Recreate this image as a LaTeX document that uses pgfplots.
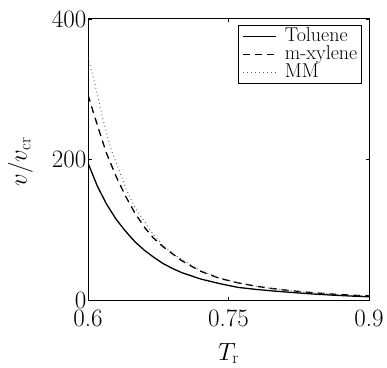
\documentclass[border=0pt]{standalone}
\usepackage{fontspec}
\usepackage{pgfplots}
\pgfplotsset{compat=1.18}
\newcommand{\lf}{\fontsize{20}{23}\selectfont}
\begin{document}
\begin{tikzpicture}
\begin{axis}[
  name=ax,
  scale only axis, width=281pt, height=281pt,
  xmin=0.6, xmax=0.9, ymin=0, ymax=400,
  xtick={0.6,0.75,0.9}, xticklabels={0.6,0.75,0.9},
  ytick={0,200,400}, yticklabels={0,200,400},
  tick align=inside, tick pos=both, major tick length=3.5pt,
  axis line style={line width=1pt},
  every tick/.style={black, line width=0.8pt},
  tick label style={font=\fontsize{25}{30}\selectfont},
  yticklabel style={inner xsep=1.5pt},
  xticklabel style={inner ysep=9.5pt},
  xlabel={$T_{\mathrm{r}}$}, ylabel={$v/v_{\mathrm{cr}}$},
  every axis x label/.style={at={(axis description cs:0.5,0)}, anchor=north, yshift=-43pt, inner sep=0pt, font=\fontsize{24}{28}\selectfont},
  every axis y label/.style={at={(axis description cs:0,0.5)}, anchor=center, rotate=90, yshift=67.5pt, xshift=-2.5pt, font=\fontsize{24}{28}\selectfont},
  legend cell align=left,
  legend style={at={(rel axis cs:1,1)}, anchor=north east, xshift=-7.3pt, yshift=-6.3pt,
    draw=black, line width=0.8pt, inner sep=2pt, row sep=0pt, font=\lf,
    nodes={inner xsep=2pt, inner ysep=0pt, text height=14pt, text depth=4pt}},
  legend image code/.code={\path (0pt,0pt) (41pt,0pt); \draw[line width=1.3pt,#1] (2pt,0pt) -- (35pt,0pt);},
]
\addplot[black, line width=1.3pt] coordinates {
(0.600,195) (0.610,162) (0.620,136) (0.630,115) (0.640,98) (0.650,83)
(0.660,71) (0.670,61) (0.680,52) (0.690,45) (0.700,39) (0.720,30)
(0.740,23.5) (0.760,18) (0.780,15) (0.800,12.6) (0.820,10.5) (0.840,8.6)
(0.860,7) (0.880,5.7) (0.900,4.5)};
\addlegendentry{\lf Toluene}
\addplot[black, line width=1.3pt, dash pattern=on 7pt off 5pt] coordinates {
(0.600,292) (0.605,270) (0.610,249) (0.615,228) (0.620,208) (0.630,176)
(0.640,148) (0.650,124) (0.660,104) (0.670,88) (0.680,76) (0.690,66)
(0.700,56) (0.720,41) (0.740,31) (0.760,24.5) (0.780,19.5) (0.800,15.8)
(0.820,12.8) (0.840,10.4) (0.860,8.5) (0.880,7) (0.900,5.8)};
\addlegendentry{\lf m-xylene}
\addplot[black!65, line width=0.9pt, dash pattern=on 0.9pt off 3pt] coordinates {
(0.600,345) (0.605,320) (0.610,293) (0.615,262) (0.620,237) (0.625,213)
(0.630,196) (0.640,160) (0.650,132) (0.660,112) (0.670,93) (0.680,78)
(0.690,67) (0.700,57.5) (0.720,42) (0.740,31.5) (0.760,24.5) (0.780,19.3)
(0.800,15.5) (0.820,12.5) (0.840,10.1) (0.860,8.2) (0.880,6.7) (0.900,5.5)};
\addlegendentry{\lf MM}
\end{axis}
\pgfresetboundingbox
\path[use as bounding box] ([xshift=-88pt,yshift=-67pt]ax.south west) rectangle ([xshift=18pt,yshift=19pt]ax.north east);
\end{tikzpicture}
\end{document}
